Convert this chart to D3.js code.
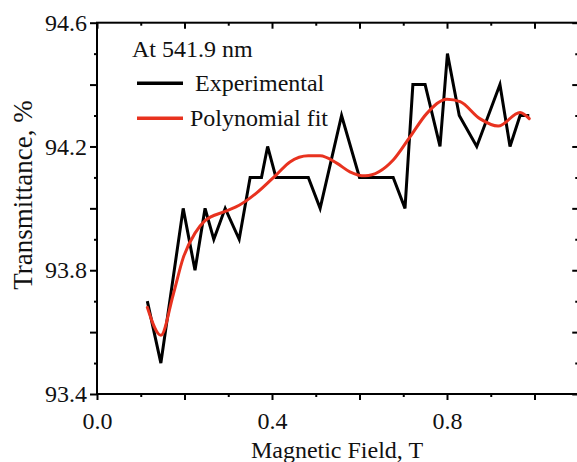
<!DOCTYPE html>
<html>
<head>
<meta charset="utf-8">
<script src="https://cdn.jsdelivr.net/npm/d3@7"></script>
<style>
  html, body { margin: 0; padding: 0; background: #fff; }
  svg { display: block; }
  text { font-family: "Liberation Serif", "Times New Roman", serif; fill: #111; }
</style>
</head>
<body>
<svg id="chart" width="577" height="462"></svg>
<script>
// ---- data ----
const expX = [0.115, 0.146, 0.197, 0.224, 0.247, 0.267, 0.293, 0.325, 0.350, 0.376, 0.390, 0.409, 0.483, 0.510, 0.559, 0.600, 0.677, 0.704, 0.722, 0.750, 0.784, 0.801, 0.828, 0.868, 0.921, 0.944, 0.967, 0.988];
const expY = [93.70, 93.50, 94.00, 93.80, 94.00, 93.90, 94.00, 93.90, 94.10, 94.10, 94.20, 94.10, 94.10, 94.00, 94.30, 94.10, 94.10, 94.00, 94.40, 94.40, 94.20, 94.50, 94.30, 94.20, 94.40, 94.20, 94.30, 94.30];

const fitX = [0.115, 0.146, 0.174, 0.197, 0.224, 0.247, 0.293, 0.325, 0.365, 0.411, 0.441, 0.483, 0.510, 0.548, 0.578, 0.613, 0.677, 0.715, 0.754, 0.800, 0.830, 0.875, 0.917, 0.967, 0.988];
const fitY = [93.68, 93.59, 93.72, 93.84, 93.92, 93.96, 93.99, 94.01, 94.05, 94.11, 94.15, 94.17, 94.17, 94.146, 94.118, 94.105, 94.156, 94.23, 94.307, 94.353, 94.345, 94.29, 94.266, 94.31, 94.29];

const xMajorTicks = [0.0, 0.2, 0.4, 0.6, 0.8, 1.0];
const xMinorTicks = [0.1, 0.3, 0.5, 0.7, 0.9];
const xLabelTicks = [0.0, 0.4, 0.8];
const yMajorTicks = [93.4, 93.6, 93.8, 94.0, 94.2, 94.4, 94.6];
const yMinorTicks = [93.5, 93.7, 93.9, 94.1, 94.3, 94.5];
const yLabelTicks = [93.4, 93.8, 94.2, 94.6];

const xTitle = "Magnetic Field, T";
const yTitle = "Transmittance, %";
const annotation = "At 541.9 nm";
const seriesNames = ["Experimental", "Polynomial fit"];
const seriesColors = ["#000000", "#e8321f"];

// ---- layout ----
const L = 97, R = 578.25, T = 22.7, B = 394;
const x = d3.scaleLinear().domain([0, 1.1]).range([L, R]);
const y = d3.scaleLinear().domain([93.4, 94.6]).range([B, T]);

const svg = d3.select("#chart");
const fmt = d3.format(".1f");

function styleAxis(g) {
  g.select(".domain").remove();
  g.selectAll(".tick line").attr("stroke", "#000").attr("stroke-width", 2);
  g.selectAll("text").style("font-size", "24px").style("font-family", '"Liberation Serif", "Times New Roman", serif').attr("fill", "#111");
}

// bottom
svg.append("g").attr("transform", `translate(0,${B})`)
  .call(d3.axisBottom(x).tickValues(xMajorTicks).tickSize(6).tickSizeOuter(0).tickPadding(12)
    .tickFormat(d => xLabelTicks.some(v => Math.abs(v - d) < 1e-9) ? fmt(d) : ""))
  .call(styleAxis);
svg.append("g").attr("transform", `translate(0,${B})`)
  .call(d3.axisBottom(x).tickValues(xMinorTicks).tickSize(3).tickSizeOuter(0).tickFormat(""))
  .call(styleAxis);
// top (ticks inward)
svg.append("g").attr("transform", `translate(0,${T})`)
  .call(d3.axisBottom(x).tickValues(xMajorTicks).tickSize(6).tickSizeOuter(0).tickFormat(""))
  .call(styleAxis);
svg.append("g").attr("transform", `translate(0,${T})`)
  .call(d3.axisBottom(x).tickValues(xMinorTicks).tickSize(3).tickSizeOuter(0).tickFormat(""))
  .call(styleAxis);
// left
svg.append("g").attr("transform", `translate(${L},0)`)
  .call(d3.axisLeft(y).tickValues(yMajorTicks).tickSize(7).tickSizeOuter(0).tickPadding(3)
    .tickFormat(d => yLabelTicks.some(v => Math.abs(v - d) < 1e-9) ? fmt(d) : ""))
  .call(styleAxis);
svg.append("g").attr("transform", `translate(${L},0)`)
  .call(d3.axisLeft(y).tickValues(yMinorTicks).tickSize(3).tickSizeOuter(0).tickFormat(""))
  .call(styleAxis);
// right (ticks inward)
svg.append("g").attr("transform", `translate(${R},0)`)
  .call(d3.axisLeft(y).tickValues(yMajorTicks).tickSize(6).tickSizeOuter(0).tickFormat(""))
  .call(styleAxis);
svg.append("g").attr("transform", `translate(${R},0)`)
  .call(d3.axisLeft(y).tickValues(yMinorTicks).tickSize(3).tickSizeOuter(0).tickFormat(""))
  .call(styleAxis);

// frame
svg.append("rect").attr("x", L).attr("y", T).attr("width", R - L).attr("height", B - T)
  .attr("fill", "none").attr("stroke", "#000").attr("stroke-width", 2);

// series
const expData = expX.map((v, i) => [v, expY[i]]);
const fitData = fitX.map((v, i) => [v, fitY[i]]);

svg.append("path").datum(expData)
  .attr("fill", "none").attr("stroke", seriesColors[0]).attr("stroke-width", 3)
  .attr("stroke-linejoin", "miter").attr("stroke-miterlimit", 4)
  .attr("d", d3.line().x(d => x(d[0])).y(d => y(d[1])));

svg.append("path").datum(fitData)
  .attr("fill", "none").attr("stroke", seriesColors[1]).attr("stroke-width", 3)
  .attr("stroke-linejoin", "round").attr("stroke-linecap", "round")
  .attr("d", d3.line().curve(d3.curveMonotoneX).x(d => x(d[0])).y(d => y(d[1])));

// legend
svg.append("text").attr("x", 132).attr("y", 57).style("font-size", "24px").text(annotation);
const legY = [83.3, 118.3];
const legTextX = [195, 190];
seriesNames.forEach((name, i) => {
  svg.append("line").attr("x1", 137).attr("x2", 183).attr("y1", legY[i]).attr("y2", legY[i])
    .attr("stroke", seriesColors[i]).attr("stroke-width", 3.5);
  svg.append("text").attr("x", legTextX[i]).attr("y", legY[i] + 7.5).style("font-size", "24px").text(name);
});

// titles
svg.append("text").attr("x", 337).attr("y", 458).attr("text-anchor", "middle")
  .style("font-size", "24px").text(xTitle);
svg.append("text").attr("transform", "translate(32,195) rotate(-90)").attr("text-anchor", "middle")
  .style("font-size", "27px").text(yTitle);
</script>
</body>
</html>
